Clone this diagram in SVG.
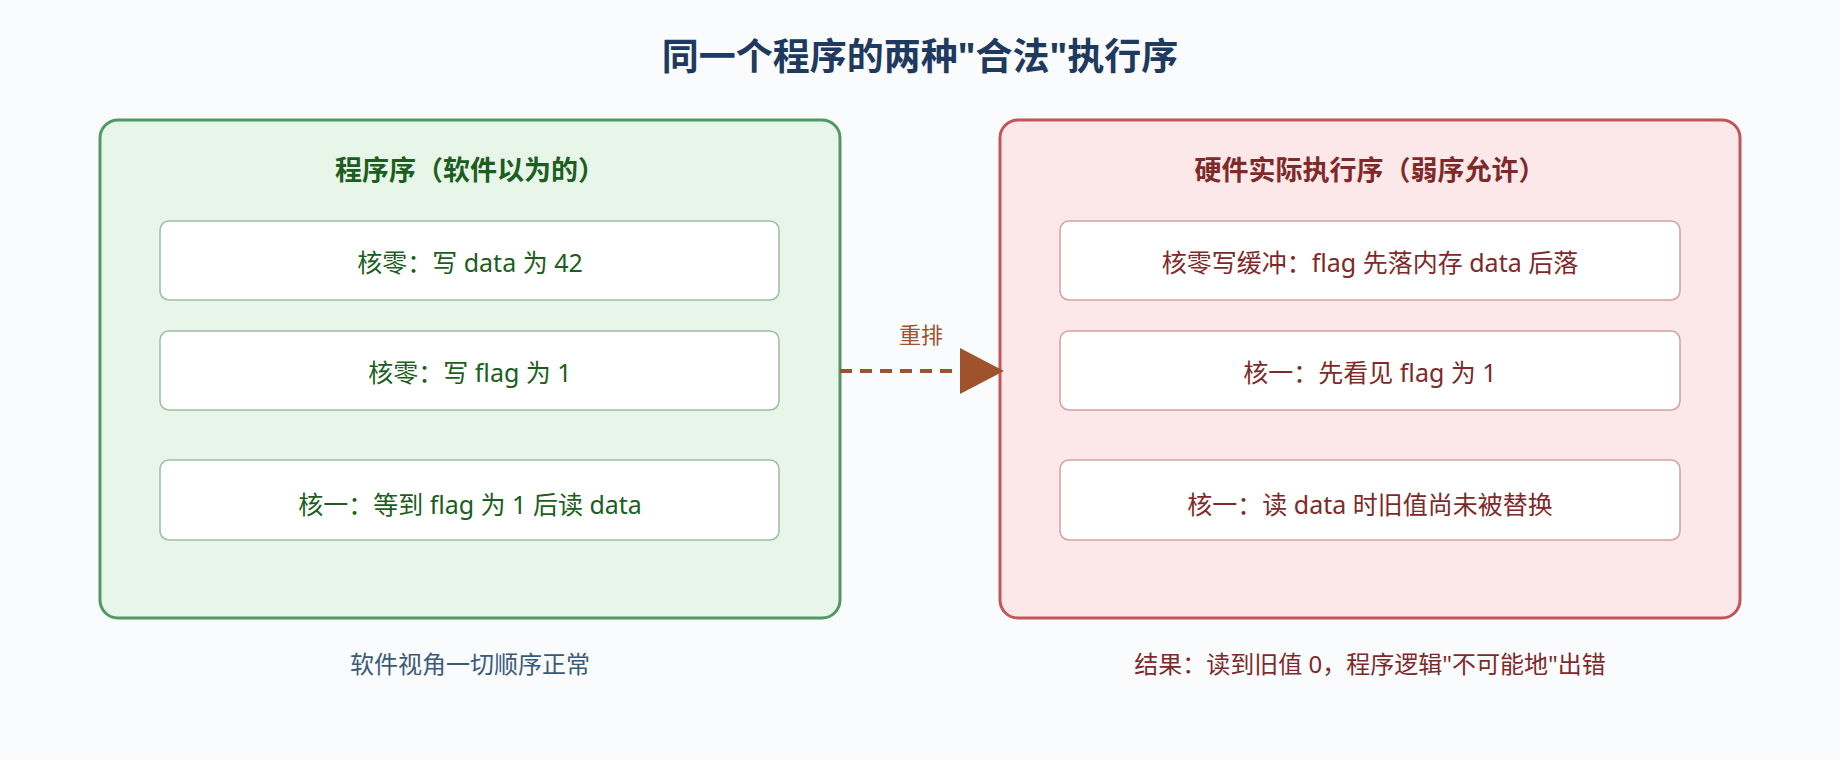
<svg xmlns="http://www.w3.org/2000/svg" width="1840" height="760" viewBox="0 0 1840 760">
<defs>
<marker id="ah" markerWidth="10" markerHeight="10" refX="2" refY="5" orient="auto" markerUnits="userSpaceOnUse" viewBox="0 0 10 10"><path d="M0,0 L10,5 L0,10 z" fill="#a0522d"/></marker>
<style>
text{font-family:"Noto Sans","Noto Sans CJK SC",sans-serif;text-anchor:middle}
.title{font-size:37px;font-weight:bold;fill:#1e3a5f}
.gt{font-size:27px;font-weight:bold;fill:#1b5e20}
.rt{font-size:27px;font-weight:bold;fill:#7f2a2a}
.gi{fill:#fff;stroke:#9cbfa5;stroke-width:1.5}
.ri{fill:#fff;stroke:#d4a0a2;stroke-width:1.5}
.gx{font-size:25px;fill:#1b5e20}
.rx{font-size:25px;fill:#7f2a2a}
</style>
</defs>
<rect width="1840" height="760" fill="#f9fbfd"/>
<text class="title" x="920" y="70">同一个程序的两种"合法"执行序</text>
<g id="left">
<rect x="100" y="120" width="740" height="498" rx="18" fill="#e8f5e9" stroke="#4e9a64" stroke-width="3"/>
<text class="gt" x="470" y="180">程序序（软件以为的）</text>
</g>
<g id="l1"><rect class="gi" x="160" y="221" width="619" height="79" rx="9"/><text class="gx" x="470" y="272">核零：写 data 为 42</text></g>
<g id="l2"><rect class="gi" x="160" y="331" width="619" height="79" rx="9"/><text class="gx" x="470" y="382">核零：写 flag 为 1</text></g>
<g id="l3"><rect class="gi" x="160" y="460" width="619" height="80" rx="9"/><text class="gx" x="470" y="514">核一：等到 flag 为 1 后读 data</text></g>
<g id="right">
<rect x="1000" y="120" width="740" height="498" rx="18" fill="#fde8e9" stroke="#c0565a" stroke-width="3"/>
<text class="rt" x="1370" y="180">硬件实际执行序（弱序允许）</text>
</g>
<g id="r1"><rect class="ri" x="1060" y="221" width="620" height="79" rx="9"/><text class="rx" x="1370" y="272">核零写缓冲：flag 先落内存 data 后落</text></g>
<g id="r2"><rect class="ri" x="1060" y="331" width="620" height="79" rx="9"/><text class="rx" x="1370" y="382">核一：先看见 flag 为 1</text></g>
<g id="r3"><rect class="ri" x="1060" y="460" width="620" height="80" rx="9"/><text class="rx" x="1370" y="514">核一：读 data 时旧值尚未被替换</text></g>
<g id="connectors">
<line x1="840" y1="371" x2="962" y2="371" stroke="#a0522d" stroke-width="4" stroke-dasharray="12,8"/>
<path d="M960,348 L1004,371 L960,394 z" fill="#a0522d"/>
<text x="921" y="343" style="font-size:22px;fill:#a0522d">重排</text>
</g>
<text x="470" y="673" style="font-size:24px;fill:#3b5a7a">软件视角一切顺序正常</text>
<text x="1370" y="673" style="font-size:24px;fill:#7f2a2a">结果：读到旧值 0，程序逻辑"不可能地"出错</text>
</svg>
